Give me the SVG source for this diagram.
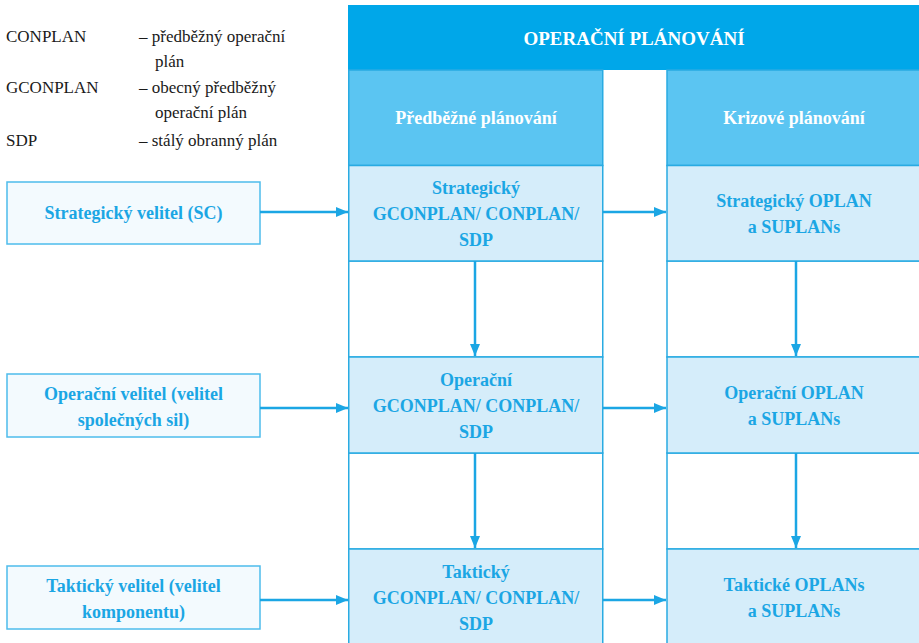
<svg xmlns="http://www.w3.org/2000/svg" width="919" height="643" viewBox="0 0 919 643">
<defs>
<style>
text{font-family:"Liberation Serif","Times New Roman","DejaVu Serif",serif}
.legend{font-size:17px;fill:#1a1a1a}
.hdr{font-weight:bold;fill:#ffffff}
.nt{font-weight:bold;font-size:18px;fill:#1ba6e4;text-anchor:middle}
.node{fill:#d5edfa;stroke:#29abe2;stroke-width:1.5}
.white{fill:#ffffff;stroke:#29abe2;stroke-width:1.5}
.sub{fill:#5bc5f2;stroke:#29abe2;stroke-width:1.5}
.cmd{fill:#f3fafe;stroke:#4dbcec;stroke-width:1.5}
.conn{stroke:#1ba6e4;stroke-width:2.5;fill:none}
</style>
<marker id="ah" viewBox="0 0 12 10" refX="12" refY="5" markerWidth="12" markerHeight="10" markerUnits="userSpaceOnUse" orient="auto">
<path d="M0,0 L12,5 L0,10 Z" fill="#1ba6e4"/>
</marker>
</defs>
<rect width="919" height="643" fill="#ffffff"/>

<g id="legend">
<text class="legend" x="6" y="42">CONPLAN</text>
<text class="legend" x="139" y="42">– předběžný operační</text>
<text class="legend" x="155" y="67">plán</text>
<text class="legend" x="6" y="93">GCONPLAN</text>
<text class="legend" x="139" y="93">– obecný předběžný</text>
<text class="legend" x="155" y="118">operační plán</text>
<text class="legend" x="6" y="146">SDP</text>
<text class="legend" x="139" y="146">– stálý obranný plán</text>
</g>

<g id="header">
<rect x="348" y="5" width="573" height="65" fill="#00a7e9"/>
<text class="hdr" x="634" y="45" font-size="19" text-anchor="middle">OPERAČNÍ PLÁNOVÁNÍ</text>
</g>

<g id="sub-left">
<rect class="sub" x="348.75" y="70" width="254" height="95.5"/>
<text class="hdr" x="476" y="124" font-size="18" text-anchor="middle">Předběžné plánování</text>
</g>
<g id="sub-right">
<rect class="sub" x="667" y="70" width="254" height="95.5"/>
<text class="hdr" x="794" y="124" font-size="18" text-anchor="middle">Krizové plánování</text>
</g>

<g id="gap-left">
<rect class="white" x="348.75" y="261" width="254" height="96"/>
<rect class="white" x="348.75" y="453" width="254" height="96"/>
</g>
<g id="gap-right">
<rect class="white" x="667" y="261" width="254" height="96"/>
<rect class="white" x="667" y="453" width="254" height="96"/>
</g>

<g id="n-strat-plan">
<rect class="node" x="348.75" y="165.5" width="254" height="95.5"/>
<text class="nt" x="476" y="194">Strategický</text>
<text class="nt" x="476" y="220">GCONPLAN/ CONPLAN/</text>
<text class="nt" x="476" y="246">SDP</text>
</g>
<g id="n-op-plan">
<rect class="node" x="348.75" y="357" width="254" height="96"/>
<text class="nt" x="476" y="386">Operační</text>
<text class="nt" x="476" y="412">GCONPLAN/ CONPLAN/</text>
<text class="nt" x="476" y="438">SDP</text>
</g>
<g id="n-takt-plan">
<rect class="node" x="348.75" y="549" width="254" height="100"/>
<text class="nt" x="476" y="578">Taktický</text>
<text class="nt" x="476" y="604">GCONPLAN/ CONPLAN/</text>
<text class="nt" x="476" y="630">SDP</text>
</g>

<g id="n-strat-oplan">
<rect class="node" x="667" y="165.5" width="254" height="95.5"/>
<text class="nt" x="794" y="207">Strategický OPLAN</text>
<text class="nt" x="794" y="233">a SUPLANs</text>
</g>
<g id="n-op-oplan">
<rect class="node" x="667" y="357" width="254" height="96"/>
<text class="nt" x="794" y="399">Operační OPLAN</text>
<text class="nt" x="794" y="425">a SUPLANs</text>
</g>
<g id="n-takt-oplan">
<rect class="node" x="667" y="549" width="254" height="100"/>
<text class="nt" x="794" y="591">Taktické OPLANs</text>
<text class="nt" x="794" y="617">a SUPLANs</text>
</g>

<g id="c-strat">
<rect class="cmd" x="7" y="182" width="253" height="62"/>
<text class="nt" x="133.5" y="219">Strategický velitel (SC)</text>
</g>
<g id="c-op">
<rect class="cmd" x="7" y="374" width="253" height="63"/>
<text class="nt" x="133.5" y="400">Operační velitel (velitel</text>
<text class="nt" x="133.5" y="426">společných sil)</text>
</g>
<g id="c-takt">
<rect class="cmd" x="7" y="566" width="253" height="63"/>
<text class="nt" x="133.5" y="592">Taktický velitel (velitel</text>
<text class="nt" x="133.5" y="618">komponentu)</text>
</g>

<g id="connectors">
<line class="conn" x1="260" y1="212" x2="348" y2="212" marker-end="url(#ah)"/>
<line class="conn" x1="260" y1="408" x2="348" y2="408" marker-end="url(#ah)"/>
<line class="conn" x1="260" y1="600" x2="348" y2="600" marker-end="url(#ah)"/>
<line class="conn" x1="603" y1="212" x2="666" y2="212" marker-end="url(#ah)"/>
<line class="conn" x1="603" y1="408" x2="666" y2="408" marker-end="url(#ah)"/>
<line class="conn" x1="603" y1="600" x2="666" y2="600" marker-end="url(#ah)"/>
<line class="conn" x1="475" y1="261" x2="475" y2="356" marker-end="url(#ah)"/>
<line class="conn" x1="475" y1="453" x2="475" y2="548" marker-end="url(#ah)"/>
<line class="conn" x1="796" y1="261" x2="796" y2="356" marker-end="url(#ah)"/>
<line class="conn" x1="796" y1="453" x2="796" y2="548" marker-end="url(#ah)"/>
</g>
</svg>
